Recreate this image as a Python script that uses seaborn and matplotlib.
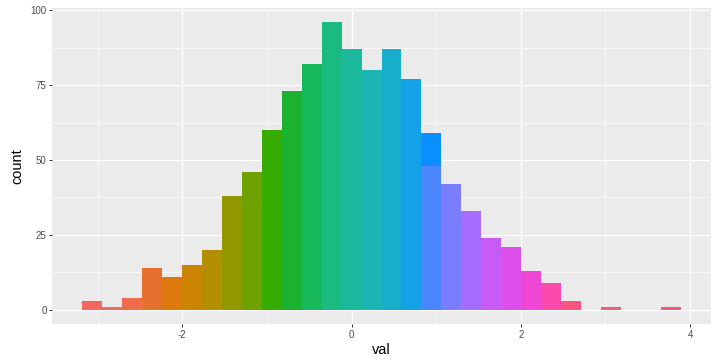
import numpy as np
import pandas as pd
import matplotlib
matplotlib.use("Agg")
import matplotlib.pyplot as plt
import seaborn as sns
from matplotlib.ticker import MultipleLocator

# ---- data (30 bins) ----
bin_first_left = -3.186
bin_width = 0.236
counts = [3, 1, 4, 14, 11, 15, 20, 38, 46, 60,
          73, 82, 96, 87, 80, 87, 77, 59, 42, 33,
          24, 21, 13, 9, 3, 0, 1, 0, 0, 1]
# bar 18 is split into two fill groups: lower part and upper part
split_bin = 17
split_lower = 48
colors = ["#F2675F", "#F0695A", "#EE6C4C", "#E6712F", "#DE790E", "#CC8500",
          "#B28E00", "#929800", "#6FA100", "#36AC00", "#1BB230", "#17B85A",
          "#1ABA80", "#1CB99C", "#1BB5B4", "#17AECC", "#13A2E8", "#0B8FFF",
          "#7A7DFF", "#A56CFF", "#C85BF6", "#DE4EEA", "#EF46D6", "#FA4AAE",
          "#F8547E", "#F25E70", "#EE5E70", "#F25E70", "#F25E70", "#EE5E70"]
split_lower_color = "#4A87FF"
x_ticks = [-2, 0, 2, 4]
y_ticks = [0, 25, 50, 75, 100]

# ---- build long table ----
edges = bin_first_left + bin_width * np.arange(len(counts) + 1)
centers = (edges[:-1] + edges[1:]) / 2
rows = []
palette = {}
for i, (c, n) in enumerate(zip(centers, counts)):
    if n == 0:
        continue
    if i == split_bin:
        rows.append((c, split_lower, f"g{i}a"))
        palette[f"g{i}a"] = split_lower_color
        rows.append((c, n - split_lower, f"g{i}b"))
        palette[f"g{i}b"] = colors[i]
    else:
        rows.append((c, n, f"g{i}"))
        palette[f"g{i}"] = colors[i]
df = pd.DataFrame(rows, columns=["val", "n", "grp"])
hue_order = list(df["grp"])
# seaborn stacks in reverse of hue order: put upper part first
ia = hue_order.index(f"g{split_bin}a")
hue_order[ia], hue_order[ia + 1] = hue_order[ia + 1], hue_order[ia]

sns.set_theme(style="darkgrid")
plt.rcParams["font.family"] = ["Liberation Sans", "DejaVu Sans"]

fig = plt.figure(figsize=(718 / 72, 364 / 72), dpi=72)
ax = fig.add_axes([52 / 718, 1 - 324 / 364, (711 - 52) / 718, (324 - 8) / 364])
ax.set_facecolor("#EBEBEB")

sns.histplot(data=df, x="val", weights="n", hue="grp", hue_order=hue_order,
             bins=[float(e) for e in edges], multiple="stack", palette=palette,
             legend=False, linewidth=0, alpha=1, ax=ax, zorder=3)

rng = edges[-1] - edges[0]
ax.set_xlim(edges[0] - 0.05 * rng, edges[-1] + 0.05 * rng)
ymax = max(counts)
ax.set_ylim(-0.05 * ymax, ymax * 1.05)

ax.set_xticks(x_ticks)
ax.set_yticks(y_ticks)
ax.xaxis.set_minor_locator(MultipleLocator(1))
ax.yaxis.set_minor_locator(MultipleLocator(12.5))
ax.grid(which="major", color="white", linewidth=1.2)
ax.grid(which="minor", color="white", linewidth=0.6)
ax.set_axisbelow(True)
for s in ax.spines.values():
    s.set_visible(False)
ax.tick_params(which="major", length=3, width=1, color="#333333",
               labelsize=9.8, labelcolor="#4D4D4D", pad=2.5, bottom=True, left=True)
ax.tick_params(which="minor", length=0, bottom=False, left=False)
ax.set_xticklabels([f"{t}" for t in x_ticks])
ax.set_yticklabels([f"{t}" for t in y_ticks])
ax.set_xlabel("val", fontsize=14.5, color="black", labelpad=3)
ax.set_ylabel("count", fontsize=14.5, color="black", labelpad=6)

fig.savefig("out.png", dpi=72)
